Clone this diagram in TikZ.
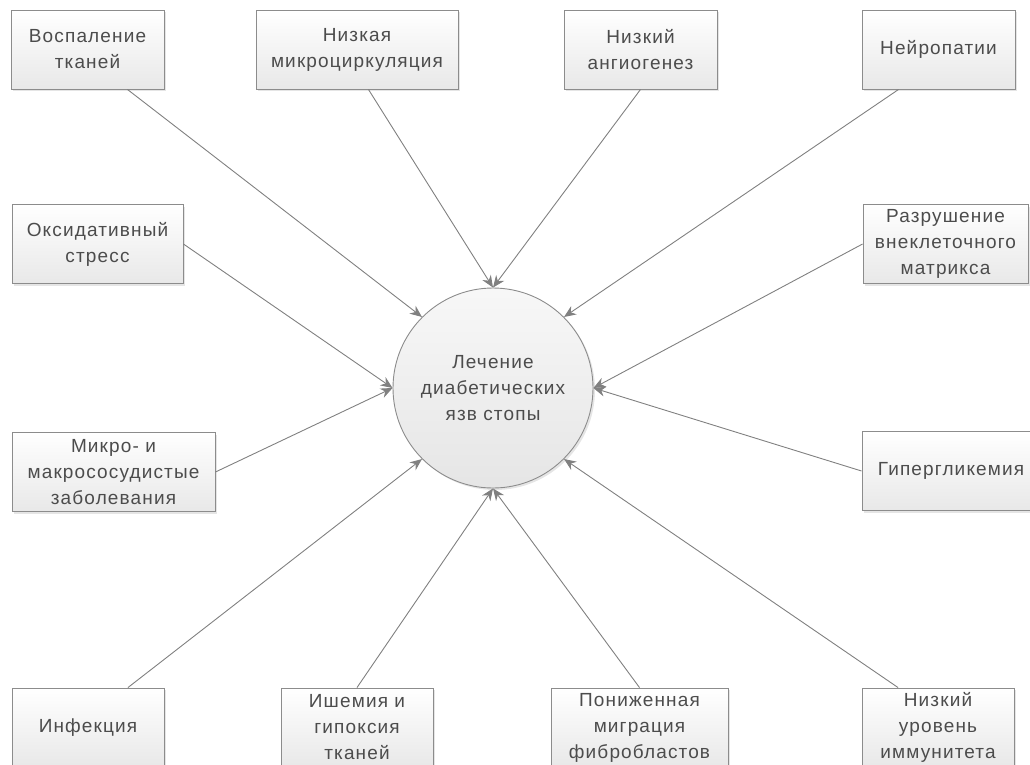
\documentclass[tikz,border=0pt]{standalone}
\usepackage{fontspec}
\setmainfont[LetterSpace=6]{Liberation Sans}
\usetikzlibrary{arrows.meta,shadows}

\tikzset{
  factor/.style={draw=black!45, line width=0.9pt, top color=white, bottom color=black!9,
    minimum height=79pt, inner sep=2pt, align=center, text=black!70,
    font=\fontsize{19}{26}\selectfont,
    drop shadow={shadow xshift=2pt, shadow yshift=-2pt, opacity=0.25, fill=black!40}},
  effect/.style={draw=black!50, line width=0.9pt, -{Stealth[length=12pt,width=10pt]}}
}

\begin{document}
\begin{tikzpicture}[x=1pt,y=-1pt]
    \useasboundingbox (0,0) rectangle (1030,764);

    % The central circle
    \node[circle, minimum size=200pt, draw=black!45, line width=0.9pt, top color=black!3,
          bottom color=black!10, align=center, text=black!70, font=\fontsize{19}{26}\selectfont,
          drop shadow={shadow xshift=2pt, shadow yshift=-2pt, opacity=0.25, fill=black!40}]
          (ulcer) at (493,388) {Лечение\\диабетических\\язв стопы};

    % Top row
    \node[factor, minimum width=153pt] (vosp) at (87.5,49.5) {Воспаление\\тканей};
    \node[factor, minimum width=202pt] (mikro) at (357,49.5) {Низкая\\микроциркуляция};
    \node[factor, minimum width=153pt] (angio) at (640.5,49.5) {Низкий\\ангиогенез};
    \node[factor, minimum width=153pt] (neuro) at (938.5,49.5) {Нейропатии};

    % Left side
    \node[factor, minimum width=171pt] (oksid) at (97.5,244) {Оксидативный\\стресс};
    \node[factor, minimum width=203pt] (sosud) at (113.5,472) {Микро- и\\макрососудистые\\заболевания};

    % Right side
    \node[factor, minimum width=165pt] (matrix) at (945.5,244) {Разрушение\\внеклеточного\\матрикса};
    \node[factor, minimum width=178pt] (glyk) at (951,471) {Гипергликемия};

    % Bottom row
    \node[factor, minimum width=152pt] (infek) at (88,727.5) {Инфекция};
    \node[factor, minimum width=152pt] (ishem) at (357,727.5) {Ишемия и\\гипоксия\\тканей};
    \node[factor, minimum width=177pt] (fibro) at (639.5,727.5) {Пониженная\\миграция\\фибробластов};
    \node[factor, minimum width=152pt] (immun) at (938,727.5) {Низкий\\уровень\\иммунитета};

    % Arrows into the circle
    \draw[effect] (vosp.-45) -- (ulcer.135);
    \draw[effect] (mikro.-74) -- (ulcer.90);
    \draw[effect] (angio.south) -- (ulcer.90);
    \draw[effect] (neuro.-135) -- (ulcer.45);
    \draw[effect] (oksid.east) -- (ulcer.180);
    \draw[effect] (sosud.east) -- (ulcer.180);
    \draw[effect] (matrix.west) -- (ulcer.0);
    \draw[effect] (glyk.west) -- (ulcer.0);
    \draw[effect] (infek.45) -- (ulcer.225);
    \draw[effect] (ishem.north) -- (ulcer.270);
    \draw[effect] (fibro.north) -- (ulcer.270);
    \draw[effect] (immun.135) -- (ulcer.315);
\end{tikzpicture}
\end{document}
